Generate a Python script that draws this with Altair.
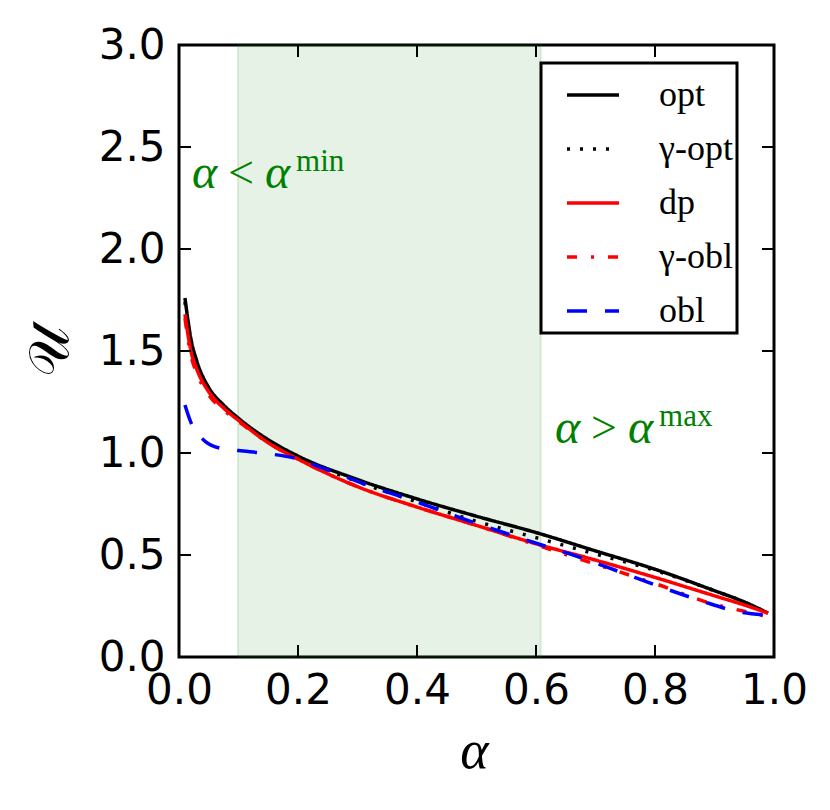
import altair as alt
import pandas as pd

# ---- data ----
alpha_grid = [0.01, 0.02, 0.03, 0.05, 0.075, 0.1, 0.15, 0.2, 0.3, 0.4, 0.5,
              0.6, 0.7, 0.8, 0.9, 0.95, 0.99]
u_opt = [1.76, 1.56, 1.45, 1.32, 1.235, 1.17, 1.065, 0.985, 0.87, 0.775, 0.69,
         0.61, 0.52, 0.43, 0.325, 0.27, 0.215]
u_gopt = [1.74, 1.55, 1.44, 1.315, 1.23, 1.165, 1.06, 0.98, 0.86, 0.76, 0.665,
          0.585, 0.505, 0.425, 0.325, 0.27, 0.215]
u_dp = [1.68, 1.50, 1.41, 1.30, 1.22, 1.16, 1.05, 0.97, 0.835, 0.735, 0.645,
        0.555, 0.475, 0.39, 0.30, 0.255, 0.215]
u_gobl = [1.66, 1.48, 1.39, 1.285, 1.21, 1.155, 1.05, 0.97, 0.835, 0.735, 0.645,
          0.55, 0.455, 0.36, 0.258, 0.224, 0.198]
alpha_obl = [0.01, 0.02, 0.03, 0.045, 0.07, 0.1, 0.145, 0.195, 0.22, 0.265, 0.33,
             0.4, 0.47, 0.535, 0.6, 0.67, 0.74, 0.805, 0.875, 0.94, 0.99]
u_obl = [1.235, 1.15, 1.10, 1.055, 1.023, 1.012, 0.998, 0.974, 0.95, 0.90, 0.828,
         0.76, 0.685, 0.62, 0.558, 0.492, 0.418, 0.348, 0.278, 0.222, 0.205]

series_names = ["opt", "γ-opt", "dp", "γ-obl", "obl"]
series_colors = ["black", "black", "red", "red", "blue"]
series_dashes = [[1, 0], [3, 10], [1, 0], [10, 14, 3, 14], [20, 18]]

region_lo = [0.099]
region_hi = [0.608]

x_ticks = [0.0, 0.2, 0.4, 0.6, 0.8, 1.0]
y_ticks = [0.0, 0.5, 1.0, 1.5, 2.0, 2.5, 3.0]

ann_alpha_min = [0.022, 2.30]
ann_alpha_max = [0.632, 1.05]

# ---- build tables ----
rows = []
for name, xs, ys in [("opt", alpha_grid, u_opt), ("γ-opt", alpha_grid, u_gopt),
                     ("dp", alpha_grid, u_dp), ("γ-obl", alpha_grid, u_gobl),
                     ("obl", alpha_obl, u_obl)]:
    for i, (a, u) in enumerate(zip(xs, ys)):
        rows.append({"series": name, "alpha": a, "U": u, "i": i})
df = pd.DataFrame(rows)

W, H = 595, 612
GREEN = "#008000"
xscale = alt.Scale(domain=[0, 1], nice=False, zero=False)
yscale = alt.Scale(domain=[0, 3], nice=False, zero=False)

legend = alt.Legend(
    title=None, orient="none", legendX=362, legendY=18,
    symbolType="stroke", symbolSize=2704, symbolStrokeWidth=3.5, symbolOffset=20,
    labelFont="Liberation Serif", labelFontSize=36, labelOffset=38,
    labelColor="black", padding=4, rowPadding=8,
    strokeColor="black", fillColor="white",
)
color = alt.Color("series:N", scale=alt.Scale(domain=series_names, range=series_colors),
                  legend=legend)
dash = alt.StrokeDash("series:N", scale=alt.Scale(domain=series_names, range=series_dashes),
                      legend=legend)

region = alt.Chart(pd.DataFrame({"lo": region_lo, "hi": region_hi})).mark_rect(
    fill=GREEN, fillOpacity=0.1, stroke=GREEN, strokeOpacity=0.12, strokeWidth=2
).encode(
    x=alt.X("lo:Q", scale=xscale,
            axis=alt.Axis(title="α", values=x_ticks, format=".1f", ticks=False, domain=False,
                          grid=False, labelFont="DejaVu Sans", labelFontSize=42,
                          labelPadding=13, labelColor="black", labelFlush=False,
                          titleFont="Liberation Serif", titleFontStyle="italic",
                          titleFontWeight="normal", titleFontSize=54, titleColor="black",
                          titleX=295, titleY=110, titleBaseline="alphabetic")),
    x2="hi:Q",
    y=alt.value(0), y2=alt.value(H),
)

line_layers = []
for name in series_names:
    line_layers.append(
        alt.Chart(df).transform_filter(alt.datum.series == name).mark_line(
            strokeWidth=3.5, interpolate="monotone"
        ).encode(
            x=alt.X("alpha:Q", scale=xscale),
            y=alt.Y("U:Q", scale=yscale,
                    axis=alt.Axis(title="𝒰", values=y_ticks, format=".1f", ticks=False,
                                  domain=False, grid=False, labelFont="DejaVu Sans",
                                  labelFontSize=42, labelPadding=14, labelColor="black",
                                  labelFlush=False,
                                  titleFont="DejaVu Serif", titleFontWeight="normal",
                                  titleFontSize=56, titleColor="black",
                                  titleX=-129, titleY=306, titleAngle=270,
                                  titleAlign="center", titleBaseline="middle")),
            color=color, strokeDash=dash, order="i:Q",
        )
    )

tick_len = 12
xt = pd.DataFrame({"v": x_ticks})
yt = pd.DataFrame({"v": y_ticks})
tick_style = dict(color="black", strokeWidth=2)
ticks = [
    alt.Chart(xt).mark_rule(**tick_style).encode(x=alt.X("v:Q", scale=xscale), y=alt.value(H), y2=alt.value(H - tick_len)),
    alt.Chart(xt).mark_rule(**tick_style).encode(x=alt.X("v:Q", scale=xscale), y=alt.value(0), y2=alt.value(tick_len)),
    alt.Chart(yt).mark_rule(**tick_style).encode(y=alt.Y("v:Q", scale=yscale), x=alt.value(0), x2=alt.value(tick_len)),
    alt.Chart(yt).mark_rule(**tick_style).encode(y=alt.Y("v:Q", scale=yscale), x=alt.value(W), x2=alt.value(W - tick_len)),
]

ann = pd.DataFrame({
    "a": [ann_alpha_min[0], ann_alpha_max[0]],
    "u": [ann_alpha_min[1], ann_alpha_max[1]],
    "t1": ["α", "α"], "t2": ["<", ">"], "t3": ["α", "α"], "t4": ["min", "max"],
})
ann_base = alt.Chart(ann).encode(x=alt.X("a:Q", scale=xscale), y=alt.Y("u:Q", scale=yscale))
txt = [
    ann_base.mark_text(align="left", baseline="alphabetic", font="Liberation Serif",
                       fontStyle="italic", fontSize=48, color=GREEN).encode(text="t1:N"),
    ann_base.mark_text(align="left", baseline="alphabetic", font="Liberation Serif",
                       fontSize=46, color=GREEN, dx=36).encode(text="t2:N"),
    ann_base.mark_text(align="left", baseline="alphabetic", font="Liberation Serif",
                       fontStyle="italic", fontSize=48, color=GREEN, dx=73).encode(text="t3:N"),
    ann_base.mark_text(align="left", baseline="alphabetic", font="Liberation Serif",
                       fontSize=31, color=GREEN, dx=104, dy=-17).encode(text="t4:N"),
]

chart = alt.layer(region, *line_layers, *ticks, *txt).properties(
    width=W, height=H,
    autosize=alt.AutoSizeParams(type="none"),
    padding={"left": 171, "top": 37, "right": 40, "bottom": 140},
).configure_view(stroke="black", strokeWidth=3).configure_legend(strokeWidth=3)

chart.save("out.html", embed_options={"renderer": "svg", "actions": False})
